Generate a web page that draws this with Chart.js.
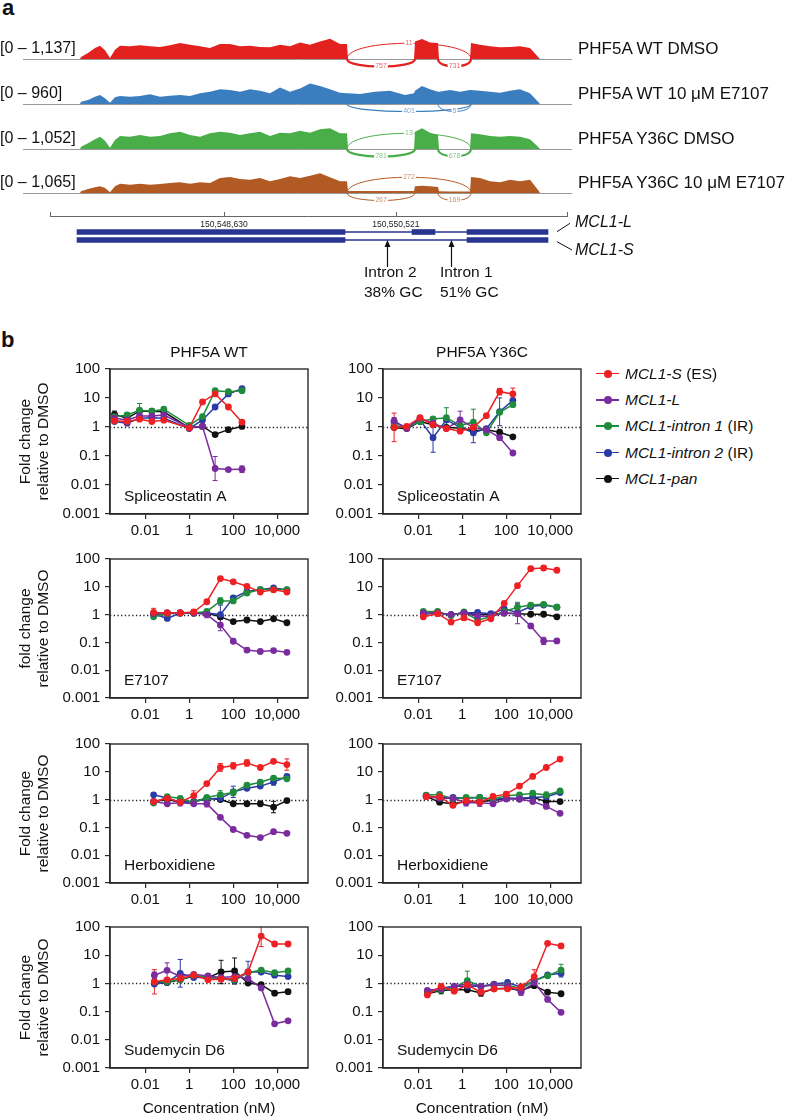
<!DOCTYPE html>
<html>
<head>
<meta charset="utf-8">
<title>MCL1 splicing</title>
<script src="https://cdn.jsdelivr.net/npm/chart.js@4.4.1/dist/chart.umd.min.js"></script>
<style>
  html, body { margin: 0; padding: 0; background: #fff; }
  #fig { position: relative; width: 788px; height: 1119px; overflow: hidden;
         font-family: "Liberation Sans", Arial, Helvetica, sans-serif; color: #111; }
  #fig canvas { position: absolute; }
  .txt { position: absolute; white-space: nowrap; line-height: 1; }
  .mid { transform: translate(-50%, -50%); }
  .lft { transform: translate(0, -50%); }
</style>
</head>
<body>
<div id="fig"></div>
<script>
// ---------- panel a : sashimi tracks ----------
const TRACK_NAMES  = ['PHF5A WT DMSO', 'PHF5A WT 10 μM E7107', 'PHF5A Y36C DMSO', 'PHF5A Y36C 10 μM E7107'];
const TRACK_MAX    = [1137, 960, 1052, 1065];
const TRACK_COLORS = ['#e3211f', '#3b7ec0', '#4aae48', '#b25a23'];

const COV_POS = [150547046, 150547057, 150547134, 150547211, 150547266, 150547321, 150547376, 150547431, 150547486,
  150547596, 150547706, 150547816, 150547926, 150548036, 150548146, 150548256, 150548366, 150548476, 150548586,
  150548696, 150548806, 150548916, 150549026, 150549136, 150549246, 150549356, 150549466, 150549576, 150549686,
  150549796, 150549906, 150549983, 150549994, 150550126, 150550291, 150550456, 150550621, 150550720,
  150550731, 150550808, 150550896, 150550984, 150550995, 150551116, 150551226, 150551336,
  150551347, 150551446, 150551556, 150551666, 150551776, 150551886, 150551996, 150552095, 150552106];

const COV_WT_DMSO = [0, 108, 324, 594, 720, 468, 54, 504, 720, 684, 738, 684, 648, 738, 864, 774, 684, 594, 810,
  810, 684, 720, 648, 630, 774, 684, 900, 774, 950, 1100, 810, 810, 0, 0, 0, 0, 0, 0,
  954, 1080, 900, 864, 0, 0, 0, 0, 864, 774, 684, 630, 648, 684, 594, 54, 0];
const COV_WT_E7107 = [0, 106, 182, 334, 410, 258, 61, 304, 365, 334, 365, 441, 334, 380, 410, 365, 486, 562, 669,
  638, 562, 669, 608, 486, 760, 562, 714, 940, 821, 669, 517, 486, 486, 456, 562, 608, 410, 486,
  608, 821, 669, 562, 562, 638, 562, 638, 638, 608, 562, 517, 608, 669, 486, 61, 0];
const COV_Y36C_DMSO = [0, 117, 284, 484, 618, 418, 67, 451, 651, 618, 701, 618, 651, 785, 868, 701, 618, 785, 868,
  818, 701, 785, 868, 651, 818, 785, 918, 818, 985, 1035, 785, 785, 0, 0, 0, 0, 0, 0,
  868, 1035, 818, 701, 0, 0, 0, 0, 785, 735, 651, 618, 651, 618, 484, 67, 0];
const COV_Y36C_E7107 = [0, 85, 203, 287, 338, 254, 34, 338, 473, 423, 473, 423, 456, 507, 541, 473, 541, 507, 761,
  811, 710, 676, 761, 592, 710, 845, 761, 880, 1000, 800, 592, 592, 100, 100, 100, 100, 100, 100,
  340, 370, 340, 300, 90, 80, 80, 80, 811, 761, 592, 541, 676, 592, 676, 85, 0];

// junctions: [from, to, reads, side (1 above, -1 below)]
const JUNC_WT_DMSO     = [[150549983, 150551347, 11, 1], [150549983, 150550731, 757, -1], [150550984, 150551347, 731, -1]];
const JUNC_WT_E7107    = [[150549983, 150551347, 401, -1], [150550984, 150551347, 5, -1]];
const JUNC_Y36C_DMSO   = [[150549983, 150551347, 13, 1], [150549983, 150550731, 781, -1], [150550984, 150551347, 678, -1]];
const JUNC_Y36C_E7107  = [[150549983, 150551347, 272, 1], [150549983, 150550731, 267, -1], [150550984, 150551347, 169, -1]];

// gene model
const VIEW_RANGE   = [150546419, 150552458];
const RULER_RANGE  = [150546716, 150552403];
const RULER_TICKS  = [150548630, 150550521];
const GENE_ROWS    = ['MCL1-L', 'MCL1-S'];
const EXON_3       = [150547013, 150549961];
const EXON_2       = [150550698, 150550951];
const EXON_1       = [150551303, 150552194];
const INTRON_MARKS = [150550423, 150551127];
const INTRON_TEXT  = [['Intron 2', '38% GC'], ['Intron 1', '51% GC']];

// ---------- panel b : dose response ----------
const SERIES_NAMES  = ['MCL1-S', 'MCL1-L', 'MCL1-intron 1', 'MCL1-intron 2', 'MCL1-pan'];
const SERIES_SUFFIX = ['(ES)', '', '(IR)', '(IR)', ''];
const SERIES_COLORS = ['#ee2024', '#7a2c9e', '#1f8c3b', '#2a3aa6', '#111111'];

const X_TICKS       = [0.01, 1, 100, 10000];
const X_TICK_LABELS = ['0.01', '1', '100', '10,000'];
const Y_TICKS       = [0.001, 0.01, 0.1, 1, 10, 100];
const Y_TICK_LABELS = ['0.001', '0.01', '0.1', '1', '10', '100'];

// rows: MCL1-S, MCL1-L, intron 1, intron 2, pan ; errors: [series, point, factor]
const SSA_WT_CONC = [0.0004, 0.0015, 0.0055, 0.02, 0.07, 1, 4, 15, 60, 250];
const SSA_WT = [
  [1.63, 1.55, 1.86, 1.55, 1.72, 0.93, 7.3, 13.8, 4.9, 1.47],
  [2.0, 1.76, 2.4, 2.4, 2.6, 0.97, 1.05, 0.037, 0.034, 0.035],
  [2.28, 2.6, 3.8, 3.5, 4.1, 1.14, 2.28, 17.9, 16.5, 17.9],
  [1.55, 1.36, 2.0, 2.1, 2.0, 0.88, 1.75, 4.9, 13.8, 21],
  [2.73, 2.0, 3.5, 3.5, 3.35, 0.93, 1.05, 0.55, 0.81, 1.05]
];
const SSA_WT_ERR = [[1, 7, 2.6], [1, 8, 1.15], [1, 9, 1.3], [2, 2, 1.7], [4, 0, 1.3], [2, 1, 1.2]];

const SSA_Y36C_CONC = [0.0008, 0.003, 0.012, 0.047, 0.19, 0.8, 3.2, 12.5, 50, 200];
const SSA_Y36C = [
  [0.97, 1.05, 2.1, 1.2, 0.88, 0.72, 0.97, 2.46, 16.5, 13.8],
  [1.63, 0.88, 2.0, 1.36, 0.88, 1.76, 0.97, 0.81, 0.43, 0.127],
  [1.14, 0.97, 1.55, 1.9, 2.1, 1.14, 1.47, 0.63, 3.2, 5.9],
  [1.47, 0.97, 1.76, 0.43, 1.76, 0.97, 0.63, 0.88, 3.35, 8.3],
  [0.97, 0.88, 1.55, 1.2, 0.97, 0.93, 0.75, 0.81, 0.66, 0.46]
];
const SSA_Y36C_ERR = [[0, 0, 3.1], [0, 9, 1.6], [0, 8, 1.3], [1, 5, 2.0], [1, 0, 1.3], [2, 4, 2.2], [2, 6, 2.8],
  [3, 3, 3.2], [3, 6, 2.2], [3, 8, 3.0]];

const E7107_WT_CONC = [0.024, 0.1, 0.39, 1.6, 6.3, 26, 100, 420, 1700, 6800, 27500];
const E7107_WT = [
  [1.2, 1.14, 1.14, 1.24, 2.9, 19.7, 15.1, 10.4, 6.45, 7.8, 6.45],
  [1.08, 1.14, 1.14, 1.14, 1.0, 0.42, 0.11, 0.053, 0.047, 0.051, 0.044],
  [0.83, 1.08, 1.14, 1.14, 1.3, 3.1, 3.1, 5.95, 7.95, 7.95, 7.95],
  [1.08, 0.73, 1.14, 1.14, 1.14, 1.0, 4.0, 6.8, 7.95, 9.1, 7.8],
  [1.0, 1.14, 1.14, 1.14, 1.14, 0.83, 0.56, 0.64, 0.56, 0.71, 0.51]
];
const E7107_WT_ERR = [[0, 0, 1.4], [2, 5, 1.3], [3, 5, 2.2], [1, 5, 1.6], [1, 4, 1.3], [1, 7, 1.2]];

const E7107_Y36C_CONC = [0.017, 0.076, 0.31, 1.2, 5, 20, 81, 324, 1300, 5000, 20000];
const E7107_Y36C = [
  [0.83, 1.08, 0.54, 0.77, 0.51, 0.71, 2.54, 11, 45, 47.5, 39.4],
  [1.14, 1.14, 1.0, 1.14, 0.88, 0.88, 1.14, 1.08, 0.39, 0.113, 0.113],
  [1.3, 1.3, 0.92, 1.24, 0.64, 0.83, 1.3, 1.85, 2.2, 2.35, 1.85],
  [1.08, 1.14, 1.0, 1.14, 1.2, 1.08, 1.6, 1.2, 1.95, 2.2, 1.85],
  [1.08, 1.14, 1.0, 1.14, 1.0, 1.0, 1.14, 1.08, 1.03, 1.03, 0.83]
];
const E7107_Y36C_ERR = [[0, 0, 1.2], [0, 3, 1.25], [0, 9, 1.2], [2, 7, 1.5], [1, 7, 2.3], [1, 9, 1.35], [2, 2, 1.2]];

const HERB_WT_CONC = [0.024, 0.1, 0.39, 1.6, 6.3, 26, 100, 420, 1700, 6800, 27500];
const HERB_WT = [
  [0.85, 1.11, 0.81, 1.38, 3.78, 14.3, 16.4, 20.8, 14.3, 23.8, 18.2],
  [0.85, 0.71, 0.77, 0.71, 0.71, 0.23, 0.084, 0.052, 0.043, 0.07, 0.061],
  [0.75, 1.27, 1.11, 0.77, 1.2, 1.49, 1.8, 3.3, 4.2, 5.95, 5.6],
  [1.49, 1.14, 0.81, 0.85, 1.05, 1.11, 1.9, 2.54, 3.06, 4.3, 6.8],
  [0.85, 1.0, 0.81, 0.85, 1.11, 1.0, 0.71, 0.71, 0.71, 0.54, 0.92]
];
const HERB_WT_ERR = [[0, 3, 1.5], [0, 5, 1.38], [0, 6, 1.3], [0, 7, 1.3], [0, 10, 1.6], [2, 5, 1.4], [2, 6, 1.3],
  [3, 6, 1.6], [3, 9, 1.3], [4, 9, 1.6], [1, 2, 1.3], [1, 4, 1.3]];

const HERB_Y36C_CONC = [0.023, 0.093, 0.38, 1.5, 6.2, 25, 100, 400, 1600, 6600, 28000];
const HERB_Y36C = [
  [1.27, 1.27, 0.62, 0.92, 0.81, 1.3, 1.57, 3.06, 6.8, 14.3, 28.6],
  [1.3, 1.11, 1.11, 0.77, 0.77, 0.71, 1.05, 1.05, 0.85, 0.57, 0.32],
  [1.45, 1.53, 1.05, 1.2, 1.2, 1.05, 1.38, 1.49, 1.7, 1.45, 2.05],
  [1.38, 1.2, 1.2, 1.11, 1.2, 1.0, 1.11, 1.11, 1.2, 1.27, 1.8],
  [1.3, 0.81, 0.71, 0.85, 0.85, 0.92, 1.11, 1.05, 1.2, 0.85, 0.85]
];
const HERB_Y36C_ERR = [[0, 2, 1.2], [0, 6, 1.2], [2, 9, 1.3], [1, 3, 1.3], [1, 4, 1.35], [4, 1, 1.2]];

const SUDE_WT_CONC = [0.026, 0.098, 0.39, 1.6, 7.1, 28, 115, 470, 1860, 7600, 31000];
const SUDE_WT = [
  [1.14, 1.34, 1.49, 1.95, 1.34, 1.41, 1.49, 2.54, 47.5, 25, 25],
  [1.95, 2.9, 1.75, 2.1, 1.84, 1.61, 1.75, 1.49, 0.69, 0.037, 0.047],
  [1.14, 1.14, 1.34, 1.95, 1.61, 1.49, 1.34, 2.4, 2.98, 2.4, 2.75],
  [0.95, 1.08, 2.28, 1.61, 1.61, 1.49, 1.24, 2.54, 2.54, 1.95, 1.75],
  [1.03, 1.08, 1.34, 1.84, 1.61, 2.54, 2.75, 1.03, 0.9, 0.45, 0.51]
];
const SUDE_WT_ERR = [[0, 0, 2.7], [0, 8, 2.35], [3, 2, 3.1], [3, 7, 2.4], [4, 5, 2.6], [4, 6, 2.9], [1, 1, 1.85], [1, 0, 1.3]];

const SUDE_Y36C_CONC = [0.026, 0.11, 0.43, 1.7, 7.1, 28, 115, 470, 1860, 7600, 31000];
const SUDE_Y36C = [
  [0.39, 0.79, 0.53, 0.88, 0.49, 0.64, 0.64, 0.73, 1.75, 26.4, 21.3],
  [0.56, 0.64, 0.79, 0.95, 0.79, 0.88, 0.83, 0.49, 1.08, 0.27, 0.094],
  [0.49, 0.59, 0.73, 1.24, 0.79, 0.88, 0.88, 0.64, 1.24, 1.85, 2.98],
  [0.53, 0.67, 0.79, 0.79, 0.79, 0.95, 1.08, 0.73, 1.24, 2.0, 2.28],
  [0.43, 0.56, 0.59, 0.59, 0.46, 0.64, 0.67, 0.56, 0.83, 0.49, 0.43]
];
const SUDE_Y36C_ERR = [[0, 8, 1.75], [0, 7, 1.3], [2, 1, 1.4], [2, 3, 2.2], [2, 10, 1.6], [3, 10, 1.35], [4, 4, 1.3], [1, 7, 1.3]];

// =============================================
//  layout / helpers
// =============================================
const FONT = '"Liberation Sans", Arial, Helvetica, sans-serif';
const fig = document.getElementById('fig');

Chart.defaults.animation = false;
Chart.defaults.font.family = FONT;
Chart.defaults.color = '#111';
Chart.defaults.plugins.legend.display = false;
Chart.defaults.plugins.tooltip.enabled = false;

function addCanvas(left, top, w, h) {
  const c = document.createElement('canvas');
  c.width = w; c.height = h;
  c.style.left = left + 'px'; c.style.top = top + 'px';
  c.style.width = w + 'px'; c.style.height = h + 'px';
  fig.appendChild(c);
  return c;
}

function addText(html, x, y, cls, style) {
  const d = document.createElement('div');
  d.className = 'txt ' + cls;
  d.innerHTML = html;
  d.style.left = x + 'px'; d.style.top = y + 'px';
  Object.assign(d.style, style || {});
  fig.appendChild(d);
  return d;
}

// sashimi arcs + baseline, drawn under the coverage
const sashimi = {
  id: 'sashimi',
  beforeDatasetsDraw(chart, args, opts) {
    const { ctx, chartArea: a } = chart;
    const xs = chart.scales.x;
    const base = chart.scales.y.getPixelForValue(0);
    ctx.save();
    ctx.strokeStyle = '#9a9a9a';
    ctx.lineWidth = 1;
    ctx.beginPath(); ctx.moveTo(a.left, base + 0.5); ctx.lineTo(a.right, base + 0.5); ctx.stroke();
    opts.junctions.forEach(([from, to, n, side]) => {
      const x1 = xs.getPixelForValue(from), x2 = xs.getPixelForValue(to);
      const h = side > 0 ? -21 : 10;
      ctx.strokeStyle = opts.color;
      ctx.lineWidth = Math.max(1, n / 330);
      ctx.beginPath();
      ctx.moveTo(x1, base);
      ctx.bezierCurveTo(x1, base + h, x2, base + h, x2, base);
      ctx.stroke();
      const mx = (x1 + x2) / 2, my = base + 0.75 * h;
      ctx.font = '7px ' + FONT;
      const w = ctx.measureText(String(n)).width;
      ctx.fillStyle = '#fff';
      ctx.fillRect(mx - w / 2 - 1, my - 3.5, w + 2, 7);
      ctx.fillStyle = opts.color;
      ctx.globalAlpha = 0.7;
      ctx.textAlign = 'center'; ctx.textBaseline = 'middle';
      ctx.fillText(String(n), mx, my);
      ctx.globalAlpha = 1;
    });
    ctx.restore();
  }
};

// ruler, intron arrows and label leaders around the gene model
const ruler = {
  id: 'ruler',
  afterDraw(chart) {
    const { ctx, chartArea: a } = chart;
    const xs = chart.scales.x;
    const y = a.top - 12;
    ctx.save();
    ctx.strokeStyle = '#666'; ctx.lineWidth = 1;
    ctx.beginPath();
    ctx.moveTo(xs.getPixelForValue(RULER_RANGE[0]), y + 0.5);
    ctx.lineTo(xs.getPixelForValue(RULER_RANGE[1]), y + 0.5);
    [RULER_RANGE[0], ...RULER_TICKS, RULER_RANGE[1]].forEach(v => {
      const x = Math.round(xs.getPixelForValue(v)) + 0.5;
      ctx.moveTo(x, y - 4); ctx.lineTo(x, y + 1);
    });
    ctx.stroke();
    ctx.fillStyle = '#222';
    ctx.font = '8.5px ' + FONT;
    ctx.textAlign = 'center'; ctx.textBaseline = 'middle';
    RULER_TICKS.forEach(v => ctx.fillText(v.toLocaleString('en-US'), xs.getPixelForValue(v), y + 9));

    ctx.strokeStyle = '#111'; ctx.fillStyle = '#111'; ctx.lineWidth = 1.2;
    INTRON_MARKS.forEach(v => {
      const x = Math.round(xs.getPixelForValue(v)) + 0.5;
      const tip = a.bottom - 4;
      ctx.beginPath(); ctx.moveTo(x, tip + 5); ctx.lineTo(x, tip + 27); ctx.stroke();
      ctx.beginPath(); ctx.moveTo(x, tip); ctx.lineTo(x - 3, tip + 7); ctx.lineTo(x + 3, tip + 7); ctx.closePath(); ctx.fill();
    });

    // leaders to the isoform names
    ctx.lineWidth = 1;
    ctx.beginPath();
    ctx.moveTo(a.right - 15, a.top + 3.7); ctx.lineTo(a.right - 2, a.top - 4.7);
    ctx.moveTo(a.right - 15, a.top + 13.7); ctx.lineTo(a.right, a.top + 22);
    ctx.stroke();
    ctx.restore();
  }
};

// error bars (log-symmetric), dotted y = 1, box frame, drug label
const errorBars = {
  id: 'errorBars',
  beforeDatasetsDraw(chart, args, opts) {
    const { ctx, chartArea: a } = chart;
    const xs = chart.scales.x, ys = chart.scales.y;
    ctx.save();
    ctx.beginPath(); ctx.rect(a.left, a.top, a.right - a.left, a.bottom - a.top); ctx.clip();
    // dotted reference line
    const y1 = Math.round(ys.getPixelForValue(1)) + 0.5;
    ctx.strokeStyle = '#222'; ctx.lineWidth = 1.3; ctx.setLineDash([1.3, 2.4]);
    ctx.beginPath(); ctx.moveTo(a.left, y1); ctx.lineTo(a.right, y1); ctx.stroke();
    ctx.setLineDash([]);
    ctx.lineWidth = 1;
    (opts.list || []).forEach(([si, pi, f]) => {
      const ds = chart.data.datasets[si];
      const p = ds.data[pi];
      const x = xs.getPixelForValue(p.x);
      const top = ys.getPixelForValue(p.y * f), bot = ys.getPixelForValue(p.y / f);
      ctx.strokeStyle = ds.borderColor;
      ctx.beginPath();
      ctx.moveTo(x, top); ctx.lineTo(x, bot);
      ctx.moveTo(x - 2.5, top); ctx.lineTo(x + 2.5, top);
      ctx.moveTo(x - 2.5, bot); ctx.lineTo(x + 2.5, bot);
      ctx.stroke();
    });
    ctx.restore();
  },
  afterDraw(chart, args, opts) {
    const { ctx, chartArea: a } = chart;
    ctx.save();
    ctx.strokeStyle = '#2a2a2a'; ctx.lineWidth = 1.4;
    ctx.strokeRect(a.left, a.top, a.right - a.left, a.bottom - a.top);
    ctx.fillStyle = '#111';
    ctx.font = '15.5px ' + FONT;
    ctx.textAlign = 'left'; ctx.textBaseline = 'middle';
    ctx.fillText(opts.label, a.left + 14, a.bottom - 17);
    ctx.restore();
  }
};

// =============================================
//  panel a
// =============================================
const TRACK_BASE = [59, 104, 149, 193];
const TRACK_DATA = [COV_WT_DMSO, COV_WT_E7107, COV_Y36C_DMSO, COV_Y36C_E7107];
const TRACK_JUNC = [JUNC_WT_DMSO, JUNC_WT_E7107, JUNC_Y36C_DMSO, JUNC_Y36C_E7107];

TRACK_DATA.forEach((vals, i) => {
  const cv = addCanvas(23, TRACK_BASE[i] - 24, 549, 37);
  new Chart(cv, {
    type: 'line',
    data: {
      datasets: [{
        data: COV_POS.map((x, k) => ({ x, y: vals[k] })),
        fill: 'origin',
        backgroundColor: TRACK_COLORS[i],
        borderColor: TRACK_COLORS[i],
        borderWidth: 0,
        pointRadius: 0,
        tension: 0,
      }],
    },
    options: {
      responsive: false,
      layout: { padding: { top: 3, bottom: 13, left: 0, right: 0 } },
      scales: {
        x: { type: 'linear', display: false, min: VIEW_RANGE[0], max: VIEW_RANGE[1] },
        y: { display: false, min: 0, max: TRACK_MAX[i] },
      },
      plugins: { sashimi: { color: TRACK_COLORS[i], junctions: TRACK_JUNC[i] } },
    },
    plugins: [sashimi],
  });
  addText('[0 – ' + TRACK_MAX[i].toLocaleString('en-US') + ']', 0, TRACK_BASE[i] - 11.5, 'lft', { fontSize: '16px' });
  addText(TRACK_NAMES[i], 578, TRACK_BASE[i] - 11.5, 'lft', { fontSize: '17px' });
});

// gene model: floating bars on the same genomic axis
const GENE_COLOR = '#2a3591';
const geneCanvas = addCanvas(23, 200, 549, 105);
new Chart(geneCanvas, {
  type: 'bar',
  data: {
    labels: GENE_ROWS,
    datasets: [
      { data: [EXON_3, EXON_3], barThickness: 5 },
      { data: [EXON_2, null], barThickness: 5 },
      { data: [EXON_1, EXON_1], barThickness: 5 },
      { data: [[EXON_3[1], EXON_1[0]], [EXON_3[1], EXON_1[0]]], barThickness: 1 },
    ].map(d => Object.assign(d, { backgroundColor: GENE_COLOR, borderWidth: 0, grouped: false })),
  },
  options: {
    indexAxis: 'y',
    responsive: false,
    layout: { padding: { top: 28, bottom: 61, left: 0, right: 0 } },
    scales: {
      x: { type: 'linear', display: false, min: VIEW_RANGE[0], max: VIEW_RANGE[1] },
      y: { display: false },
    },
  },
  plugins: [ruler],
});

addText('<i>MCL1-L</i>', 575, 221.5, 'lft', { fontSize: '16px' });
addText('<i>MCL1-S</i>', 575, 250, 'lft', { fontSize: '16px' });
addText(INTRON_TEXT[0][0], 364, 271.5, 'lft', { fontSize: '15.5px' });
addText(INTRON_TEXT[0][1], 364, 291.5, 'lft', { fontSize: '15.5px' });
addText(INTRON_TEXT[1][0], 440, 271.5, 'lft', { fontSize: '15.5px' });
addText(INTRON_TEXT[1][1], 440, 291.5, 'lft', { fontSize: '15.5px' });
addText('a', 2, 8, 'lft', { fontSize: '22px', fontWeight: 'bold' });

// =============================================
//  panel b
// =============================================
const ROWS = [
  { top: 365, bottom: 514 },
  { top: 555, bottom: 698 },
  { top: 740, bottom: 883 },
  { top: 923, bottom: 1068 },
];
const COLS = [
  { left: 0, w: 315, yw: 110, pr: 7 },
  { left: 325, w: 265, yw: 58, pr: 9 },
];

function dosePanel(col, row, conc, matrix, errs, drug, yTitle) {
  const C = COLS[col], R = ROWS[row];
  const xh = row === 3 ? 50 : 26;
  const cv = addCanvas(C.left, R.top - 10, C.w, R.bottom - R.top + 10 + xh);
  const axisCommon = {
    grid: { display: true, drawOnChartArea: false, drawTicks: true, tickLength: 5, color: '#2a2a2a', lineWidth: 1.2 },
    border: { display: true, color: '#2a2a2a', width: 1.4 },
  };
  new Chart(cv, {
    type: 'line',
    data: {
      datasets: matrix.map((vals, s) => ({
        label: SERIES_NAMES[s],
        data: conc.map((x, k) => ({ x, y: vals[k] })),
        borderColor: SERIES_COLORS[s],
        backgroundColor: SERIES_COLORS[s],
        borderWidth: 1.5,
        pointRadius: 3.4,
        pointBorderWidth: 0,
        tension: 0,
        fill: false,
      })),
    },
    options: {
      responsive: false,
      layout: { padding: { top: 10, bottom: 0, left: 0, right: C.pr } },
      scales: {
        x: Object.assign({
          type: 'logarithmic',
          min: 0.00025,
          max: 250000,
          afterBuildTicks: s => { s.ticks = X_TICKS.map(v => ({ value: v })); },
          afterFit: s => { s.height = xh; },
          ticks: {
            autoSkip: false, maxRotation: 0, padding: 3,
            font: { size: 15 }, color: '#111',
            callback: (v, i) => X_TICK_LABELS[i],
          },
          title: { display: row === 3, text: 'Concentration (nM)', font: { size: 15.5 }, padding: 0, color: '#111' },
        }, axisCommon),
        y: Object.assign({
          type: 'logarithmic',
          min: 0.001,
          max: 100,
          afterBuildTicks: s => { s.ticks = Y_TICKS.map(v => ({ value: v })); },
          afterFit: s => { s.width = C.yw; },
          ticks: {
            autoSkip: false, padding: 5,
            font: { size: 15 }, color: '#111',
            callback: (v, i) => Y_TICK_LABELS[i],
          },
          title: {
            display: !!yTitle, text: yTitle || '', font: { size: 15.5, lineHeight: 1.2 },
            padding: { top: 16, bottom: 0 }, color: '#111',
          },
        }, axisCommon),
      },
      plugins: { errorBars: { list: errs, label: drug } },
    },
    plugins: [errorBars],
  });
}

dosePanel(0, 0, SSA_WT_CONC, SSA_WT, SSA_WT_ERR, 'Spliceostatin A', ['Fold change', 'relative to DMSO']);
dosePanel(1, 0, SSA_Y36C_CONC, SSA_Y36C, SSA_Y36C_ERR, 'Spliceostatin A');
dosePanel(0, 1, E7107_WT_CONC, E7107_WT, E7107_WT_ERR, 'E7107', ['fold change', 'relative to DMSO']);
dosePanel(1, 1, E7107_Y36C_CONC, E7107_Y36C, E7107_Y36C_ERR, 'E7107');
dosePanel(0, 2, HERB_WT_CONC, HERB_WT, HERB_WT_ERR, 'Herboxidiene', ['Fold change', 'relative to DMSO']);
dosePanel(1, 2, HERB_Y36C_CONC, HERB_Y36C, HERB_Y36C_ERR, 'Herboxidiene');
dosePanel(0, 3, SUDE_WT_CONC, SUDE_WT, SUDE_WT_ERR, 'Sudemycin D6', ['Fold change', 'relative to DMSO']);
dosePanel(1, 3, SUDE_Y36C_CONC, SUDE_Y36C, SUDE_Y36C_ERR, 'Sudemycin D6');

addText('b', 1, 340, 'lft', { fontSize: '22px', fontWeight: 'bold' });
addText('PHF5A WT', 209, 352, 'mid', { fontSize: '15.5px' });
addText('PHF5A Y36C', 482, 352, 'mid', { fontSize: '15.5px' });

// legend
const LEGEND_Y = [373.5, 400, 426, 452.5, 478.5];
SERIES_NAMES.forEach((name, s) => {
  const y = LEGEND_Y[s];
  const line = document.createElement('div');
  Object.assign(line.style, { position: 'absolute', left: '596px', top: (y - 0.75) + 'px', width: '23px', height: '1.5px', background: SERIES_COLORS[s] });
  fig.appendChild(line);
  const dot = document.createElement('div');
  Object.assign(dot.style, { position: 'absolute', left: '603.5px', top: (y - 4) + 'px', width: '8px', height: '8px', borderRadius: '50%', background: SERIES_COLORS[s] });
  fig.appendChild(dot);
  const suffix = SERIES_SUFFIX[s] ? ' ' + SERIES_SUFFIX[s] : '';
  addText('<i>' + name + '</i>' + suffix, 625, y, 'lft', { fontSize: '15.5px' });
});
</script>
</body>
</html>
